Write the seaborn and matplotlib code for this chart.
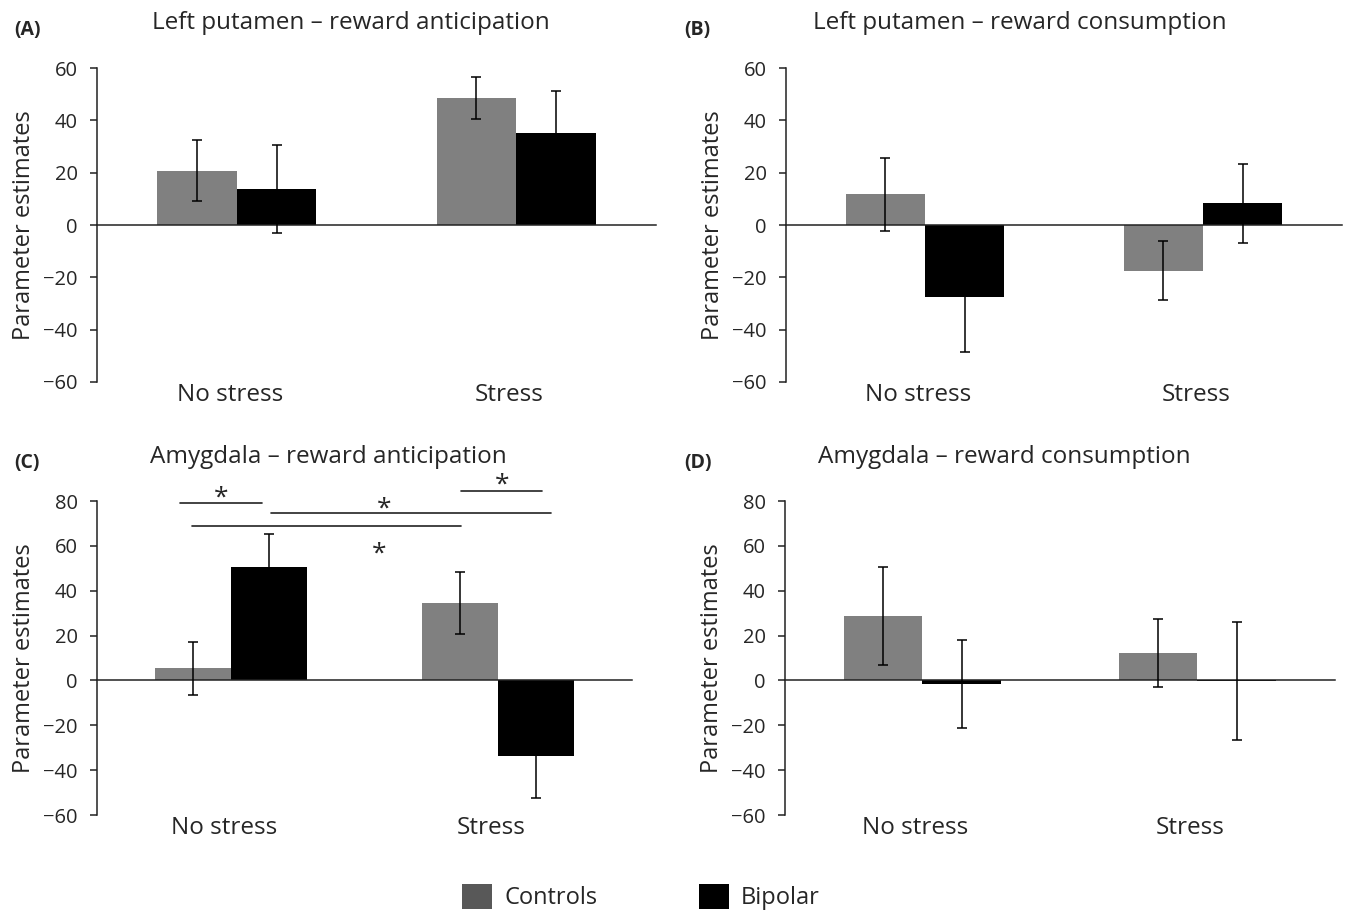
import numpy as np
import pandas as pd
import matplotlib.pyplot as plt
from matplotlib.patches import Patch
import seaborn as sns

conditions = ['No stress', 'Stress']
groups = ['Controls', 'Bipolar']

# (A) Left putamen - reward anticipation
a_controls = [20.7, 48.6]
a_bipolar = [13.6, 35.2]
a_controls_err = [11.7, 8.1]
a_bipolar_err = [16.8, 15.9]

# (B) Left putamen - reward consumption
b_controls = [11.7, -17.5]
b_bipolar = [-27.5, 8.3]
b_controls_err = [13.8, 11.3]
b_bipolar_err = [20.9, 15.0]

# (C) Amygdala - reward anticipation
c_controls = [5.4, 34.4]
c_bipolar = [50.5, -33.6]
c_controls_err = [11.7, 13.8]
c_bipolar_err = [14.9, 18.9]

# (D) Amygdala - reward consumption
d_controls = [28.9, 12.1]
d_bipolar = [-1.7, -0.3]
d_controls_err = [21.8, 15.1]
d_bipolar_err = [19.6, 26.3]

# significance bars in panel C (x from, x to, y) and star positions
sig_lines = [(-0.19, 0.117, 79.2), (0.15, 1.197, 74.8), (-0.145, 0.861, 68.8), (0.861, 1.164, 84.4)]
sig_stars = [(-0.036, 81.5), (0.573, 76.6), (0.554, 56.5), (1.014, 87.3)]

GREY = '#808080'
BLACK = '#000000'

sns.set_theme(style='white')
plt.rcParams['font.family'] = ['Open Sans', 'DejaVu Sans']

fig = plt.figure(figsize=(13.49, 9.13), dpi=100)

panels = [
    dict(tag='(A)', title='Left putamen \u2013 reward anticipation', rect=[0.0719, 0.5816, 0.4144, 0.3439],
         c=a_controls, b=a_bipolar, ce=a_controls_err, be=a_bipolar_err, ylim=(-60, 60),
         tx=351 / 1349, ty=1 - 23 / 913, lx=14 / 1349, ly=1 - 30 / 913),
    dict(tag='(B)', title='Left putamen \u2013 reward consumption', rect=[0.5827, 0.5816, 0.4122, 0.3439],
         c=b_controls, b=b_bipolar, ce=b_controls_err, be=b_bipolar_err, ylim=(-60, 60),
         tx=1020 / 1349, ty=1 - 23 / 913, lx=684 / 1349, ly=1 - 30 / 913),
    dict(tag='(C)', title='Amygdala \u2013 reward anticipation', rect=[0.0719, 0.1073, 0.3966, 0.3439],
         c=c_controls, b=c_bipolar, ce=c_controls_err, be=c_bipolar_err, ylim=(-60, 80),
         tx=328 / 1349, ty=1 - 457 / 913, lx=14 / 1349, ly=1 - 463 / 913),
    dict(tag='(D)', title='Amygdala \u2013 reward consumption', rect=[0.5819, 0.1073, 0.4077, 0.3439],
         c=d_controls, b=d_bipolar, ce=d_controls_err, be=d_bipolar_err, ylim=(-60, 80),
         tx=1004 / 1349, ty=1 - 457 / 913, lx=684 / 1349, ly=1 - 463 / 913),
]

axes = []
for p in panels:
    ax = fig.add_axes(p['rect'])
    df = pd.DataFrame({
        'condition': conditions * 2,
        'group': [groups[0]] * 2 + [groups[1]] * 2,
        'value': p['c'] + p['b'],
    })
    sns.barplot(data=df, x='condition', y='value', hue='group', order=conditions, hue_order=groups,
                palette=[GREY, BLACK], width=0.57, errorbar=None, saturation=1, legend=False,
                linewidth=0, ax=ax)
    for cont, vals, errs in zip(ax.containers, [p['c'], p['b']], [p['ce'], p['be']]):
        xs = [r.get_x() + r.get_width() / 2 for r in cont]
        ax.errorbar(xs, vals, yerr=errs, fmt='none', ecolor='black', elinewidth=1.1,
                    capsize=3.5, capthick=1.1, zorder=5)

    ax.set_xlim(-0.5, 1.5)
    ax.set_ylim(*p['ylim'])
    ax.set_yticks(np.arange(p['ylim'][0], p['ylim'][1] + 1, 20))
    ax.set_yticklabels([f'{int(v)}'.replace('-', '\u2212') for v in ax.get_yticks()])
    ax.set_xlabel('')
    ax.set_ylabel('Parameter estimates', fontsize=17, labelpad=5)
    for s in ['top', 'right']:
        ax.spines[s].set_visible(False)
    for s in ['left', 'bottom']:
        ax.spines[s].set_color('#222222')
        ax.spines[s].set_linewidth(1.1)
    ax.spines['bottom'].set_position(('data', 0))
    ax.set_xticks([0.5, 1.5])
    ax.set_xticklabels(['', ''])
    ax.tick_params(axis='x', direction='out', length=5, width=1.1, color='#222222')
    ax.tick_params(axis='y', direction='out', length=5, width=1.1, color='#222222',
                   labelsize=14.5, pad=9, left=True)

    # category names sit below the plot area, not on the zero line
    sec = ax.secondary_xaxis('bottom')
    sec.set_xticks([-0.025, 0.975])
    sec.set_xticklabels(conditions)
    sec.tick_params(length=0, labelsize=17.5, pad=1)
    sec.spines['bottom'].set_visible(False)

    fig.text(p['tx'], p['ty'], p['title'], fontsize=17.5, ha='center', va='center')
    fig.text(p['lx'], p['ly'], p['tag'], fontsize=14, fontweight='bold', ha='left', va='center')
    axes.append(ax)

# significance markers on panel C
axc = axes[2]
for x0, x1, y in sig_lines:
    axc.plot([x0, x1], [y, y], color='#222222', lw=1.2, clip_on=False)
for x, y in sig_stars:
    axc.text(x, y, '*', fontsize=19, ha='center', va='center', clip_on=False)

handles = [Patch(facecolor='#585858', edgecolor='none', label='Controls'),
           Patch(facecolor=BLACK, edgecolor='none', label='Bipolar')]
fig.legend(handles=handles, loc='center', bbox_to_anchor=(0.475, 1 - 897 / 913), ncol=2,
           frameon=False, fontsize=17, handlelength=1.3, handleheight=1.3,
           handletextpad=0.5, columnspacing=4.3)

fig.savefig('out.png', dpi=100)
